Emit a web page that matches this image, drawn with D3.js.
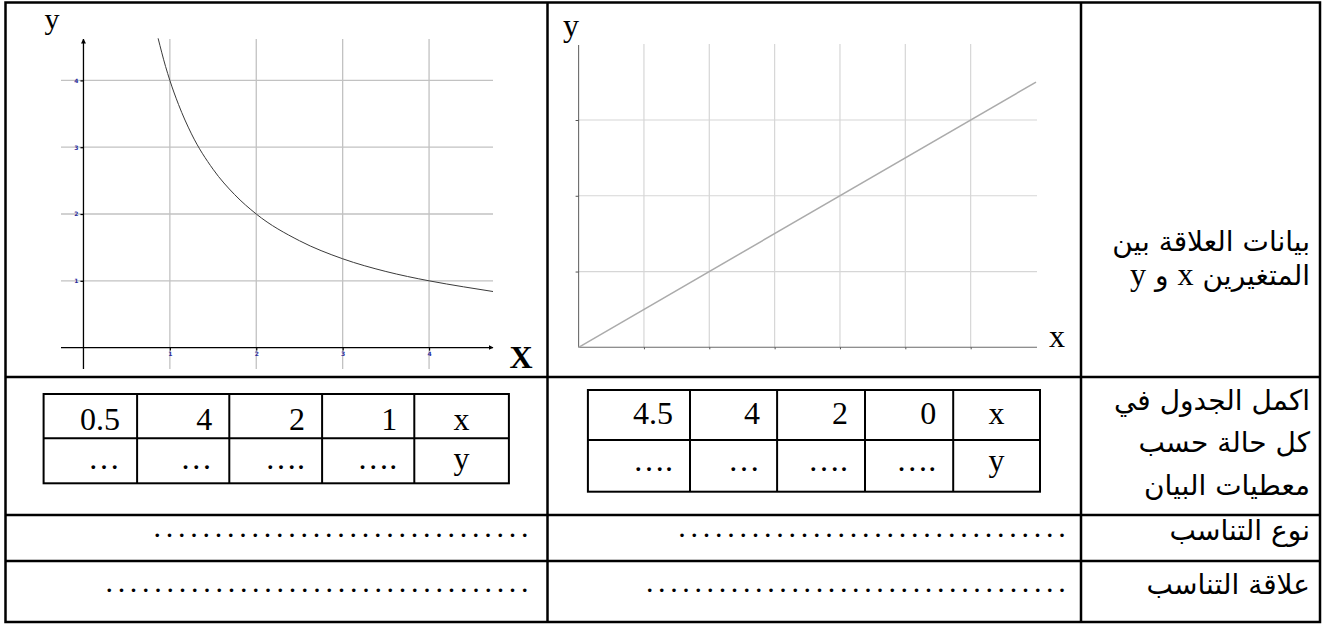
<!DOCTYPE html>
<html><head><meta charset="utf-8">
<script src="https://cdn.jsdelivr.net/npm/d3@7"></script>
<style>html,body{margin:0;padding:0;background:#fff;} svg{display:block}</style>
</head><body>
<svg id="c" width="1327" height="624"></svg>
<script>
// ---------------- data ----------------
// chart 1 (inverse proportion) : points
const c1X = [0.864, 0.95, 1, 1.1, 1.25, 1.5, 1.75, 2, 2.5, 3, 3.5, 4, 4.4, 4.74];
const c1Y = [4.63, 4.21, 4, 3.64, 3.2, 2.67, 2.29, 2, 1.6, 1.33, 1.14, 1, 0.91, 0.84];
const c1XTicks = [1, 2, 3, 4];
const c1YTicks = [1, 2, 3, 4];
// chart 2 (direct proportion)
const c2X = [0, 7];
const c2Y = [0, 3.5];
const c2XGrid = [1, 2, 3, 4, 5, 6];
const c2YGrid = [1, 2, 3];
// tables
const t1Head = ["0.5", "4", "2", "1", "x"];
const t1Vals = ["…", "…", "….", "….", "y"];
const t2Head = ["4.5", "4", "2", "0", "x"];
const t2Vals = ["….", "…", "….", "….", "y"];
// row labels (Arabic); segments flagged true are Latin (serif)
const rowLabels = [
  [[["بيانات العلاقة بين", false]], [["المتغيرين ", false], ["x", true], [" و ", false], ["y", true]]],
  [[["اكمل الجدول في", false]], [["كل حالة حسب", false]], [["معطيات البيان", false]]],
  [[["نوع التناسب", false]]],
  [[["علاقة التناسب", false]]]
];
const axisNames1 = ["y", "X"];
const axisNames2 = ["y", "x"];

// ---------------- layout ----------------
const svg = d3.select("#c");
const serif = "'Liberation Serif','Times New Roman',serif";
const arab = "'DejaVu Sans',sans-serif";

const frameL = 5.5, frameR = 1320, frameT = 2.5, frameB = 622;
const colX = [frameL, 547.5, 1081, frameR];
const rowY = [frameT, 377, 515, 561, frameB];

// ---------------- chart 1 ----------------
const x1 = d3.scaleLinear().domain([-0.26, 4.74]).range([61, 493]);
const y1 = d3.scaleLinear().domain([-0.32, 4.62]).range([369, 39]);
const g1 = svg.append("g");
g1.selectAll("line.vg").data(c1XTicks).join("line")
  .attr("x1", d => x1(d)).attr("x2", d => x1(d))
  .attr("y1", y1.range()[0]).attr("y2", y1.range()[1])
  .attr("stroke", "#c2c2c2").attr("stroke-width", 1.3);
g1.selectAll("line.hg").data(c1YTicks).join("line")
  .attr("y1", d => y1(d)).attr("y2", d => y1(d))
  .attr("x1", x1.range()[0]).attr("x2", x1.range()[1])
  .attr("stroke", "#c2c2c2").attr("stroke-width", 1.3);

const defs = svg.append("defs");
defs.append("marker").attr("id", "arr").attr("viewBox", "0 0 10 10")
  .attr("refX", 9).attr("refY", 5).attr("markerWidth", 5).attr("markerHeight", 5)
  .attr("orient", "auto").attr("markerUnits", "userSpaceOnUse")
  .append("path").attr("d", "M0,0 L10,5 L0,10 z").attr("fill", "#000");

g1.append("line").attr("x1", x1.range()[0]).attr("x2", x1.range()[1])
  .attr("y1", y1(0)).attr("y2", y1(0)).attr("stroke", "#000").attr("stroke-width", 1.3)
  .attr("marker-end", "url(#arr)");
g1.append("line").attr("x1", x1(0)).attr("x2", x1(0))
  .attr("y1", y1.range()[0]).attr("y2", y1.range()[1]).attr("stroke", "#000").attr("stroke-width", 1.3)
  .attr("marker-end", "url(#arr)");

const ax1 = g1.append("g").attr("transform", `translate(0,${y1(0)})`)
  .call(d3.axisBottom(x1).tickValues(c1XTicks).tickSize(3).tickPadding(1).tickFormat(d3.format("d")));
const ay1 = g1.append("g").attr("transform", `translate(${x1(0)},0)`)
  .call(d3.axisLeft(y1).tickValues(c1YTicks).tickSize(3).tickPadding(2).tickFormat(d3.format("d")));
[ax1, ay1].forEach(a => {
  a.select(".domain").remove();
  a.selectAll(".tick line").attr("stroke", "#000").attr("stroke-width", 1.2);
  a.selectAll(".tick text").attr("fill", "#2b2b9a").attr("font-size", 6).attr("font-weight", "bold")
    .attr("font-family", "'DejaVu Sans',sans-serif");
});

g1.append("path").datum(c1X.map((d, i) => [d, c1Y[i]]))
  .attr("d", d3.line().x(d => x1(d[0])).y(d => y1(d[1])).curve(d3.curveMonotoneX))
  .attr("fill", "none").attr("stroke", "#3a3a3a").attr("stroke-width", 1);

g1.append("text").text(axisNames1[0]).attr("x", 52).attr("y", 29)
  .attr("text-anchor", "middle").attr("font-family", serif).attr("font-size", 30);
g1.append("text").text(axisNames1[1]).attr("x", 521).attr("y", 368)
  .attr("text-anchor", "middle").attr("font-family", serif).attr("font-size", 32).attr("font-weight", "bold");

// ---------------- chart 2 ----------------
const x2 = d3.scaleLinear().domain([0, 7]).range([578.6, 1036]);
const y2 = d3.scaleLinear().domain([0, 3.99]).range([347.3, 45]);
const g2 = svg.append("g");
g2.selectAll("line.vg").data(c2XGrid).join("line")
  .attr("x1", d => x2(d)).attr("x2", d => x2(d))
  .attr("y1", y2(0)).attr("y2", y2.range()[1] - 1)
  .attr("stroke", "#d6d6d6").attr("stroke-width", 1.2);
g2.selectAll("line.hg").data(c2YGrid).join("line")
  .attr("y1", d => y2(d)).attr("y2", d => y2(d))
  .attr("x1", x2(0)).attr("x2", x2.range()[1] + 1)
  .attr("stroke", "#d6d6d6").attr("stroke-width", 1.2);
g2.append("line").attr("x1", x2(0)).attr("x2", x2.range()[1] + 1)
  .attr("y1", y2(0)).attr("y2", y2(0)).attr("stroke", "#6a6a6a").attr("stroke-width", 1.1);
g2.append("line").attr("x1", x2(0)).attr("x2", x2(0))
  .attr("y1", y2(0)).attr("y2", y2.range()[1]).attr("stroke", "#6a6a6a").attr("stroke-width", 1.1);
const ax2 = g2.append("g").attr("transform", `translate(0,${y2(0)})`)
  .call(d3.axisBottom(x2).tickValues(c2XGrid).tickSize(2).tickFormat(""));
const ay2 = g2.append("g").attr("transform", `translate(${x2(0)},0)`)
  .call(d3.axisLeft(y2).tickValues(c2YGrid).tickSize(3).tickFormat(""));
[ax2, ay2].forEach(a => {
  a.select(".domain").remove();
  a.selectAll(".tick line").attr("stroke", "#555").attr("stroke-width", 1);
});
g2.append("path").datum(c2X.map((d, i) => [d, c2Y[i]]))
  .attr("d", d3.line().x(d => x2(d[0])).y(d => y2(d[1])))
  .attr("fill", "none").attr("stroke", "#ababab").attr("stroke-width", 1.5);
g2.append("text").text(axisNames2[0]).attr("x", 571).attr("y", 36)
  .attr("text-anchor", "middle").attr("font-family", serif).attr("font-size", 32);
g2.append("text").text(axisNames2[1]).attr("x", 1057).attr("y", 347)
  .attr("text-anchor", "middle").attr("font-family", serif).attr("font-size", 32);

// ---------------- small tables ----------------
function drawTable(xs, ys, head, vals, base1, base2) {
  const g = svg.append("g");
  g.append("rect").attr("x", xs[0]).attr("y", ys[0])
    .attr("width", xs[xs.length - 1] - xs[0]).attr("height", ys[2] - ys[0])
    .attr("fill", "none").attr("stroke", "#000").attr("stroke-width", 2);
  g.append("line").attr("x1", xs[0]).attr("x2", xs[xs.length - 1])
    .attr("y1", ys[1]).attr("y2", ys[1]).attr("stroke", "#000").attr("stroke-width", 2);
  g.selectAll("line.c").data(xs.slice(1, -1)).join("line")
    .attr("x1", d => d).attr("x2", d => d).attr("y1", ys[0]).attr("y2", ys[2])
    .attr("stroke", "#000").attr("stroke-width", 2);
  [[head, base1], [vals, base2]].forEach(([arr, by]) => {
    g.selectAll(null).data(arr).join("text")
      .text(d => d)
      .attr("x", (d, i) => i === arr.length - 1 ? (xs[i] + xs[i + 1]) / 2 : xs[i + 1] - 17)
      .attr("y", by)
      .attr("text-anchor", (d, i) => i === arr.length - 1 ? "middle" : "end")
      .attr("font-family", serif).attr("font-size", 32);
  });
}
drawTable([43.6, 137.1, 229.3, 322.1, 414.3, 508.9], [394, 438.3, 483.3], t1Head, t1Vals, 429.5, 469);
drawTable([587.9, 690, 777.1, 865, 953.2, 1040], [390, 440, 491.7], t2Head, t2Vals, 424, 471);

// ---------------- dotted answer lines ----------------
const dotLines = [
  {x0: 153.6, x1: 528.6, y: 537, n: 31},
  {x0: 105.4, x1: 528.6, y: 592, n: 35},
  {x0: 678.2, x1: 1065.7, y: 537, n: 32},
  {x0: 646, x1: 1065.7, y: 592, n: 35}
];
svg.selectAll("text.dots").data(dotLines).join("text")
  .text(d => ".".repeat(d.n))
  .attr("x", d => d.x0).attr("y", d => d.y)
  .attr("textLength", d => d.x1 - d.x0).attr("lengthAdjust", "spacing")
  .attr("font-family", serif).attr("font-size", 30);

// ---------------- Arabic row labels ----------------
const probe = svg.append("text").text(rowLabels[1][0][0][0]).attr("font-family", arab).attr("font-size", 20).attr("direction", "rtl");
const probeW = probe.node().getComputedTextLength();
probe.remove();
const arFs = 20 * 196 / probeW;
const labelRight = 1310;
const baselines = [[251, 285], [410, 452, 495], [540], [594]];
rowLabels.forEach((lines, r) => {
  lines.forEach((segs, k) => {
    const t = svg.append("text")
      .attr("x", labelRight).attr("y", baselines[r][k])
      .attr("direction", "rtl").attr("text-anchor", "start")
      .attr("font-family", arab).attr("font-size", arFs);
    segs.forEach(([s, latin]) => {
      const ts = t.append("tspan").text(s);
      if (latin) ts.attr("font-family", serif).attr("font-size", arFs * 1.15);
    });
  });
});

// ---------------- outer table grid ----------------
const gf = svg.append("g").attr("stroke", "#000").attr("stroke-width", 2.5).attr("fill", "none");
gf.append("rect").attr("x", frameL).attr("y", frameT).attr("width", frameR - frameL).attr("height", frameB - frameT);
gf.selectAll("line.col").data(colX.slice(1, -1)).join("line")
  .attr("x1", d => d).attr("x2", d => d).attr("y1", frameT).attr("y2", frameB);
gf.selectAll("line.row").data(rowY.slice(1, -1)).join("line")
  .attr("x1", frameL).attr("x2", frameR).attr("y1", d => d).attr("y2", d => d);
</script>
</body></html>
